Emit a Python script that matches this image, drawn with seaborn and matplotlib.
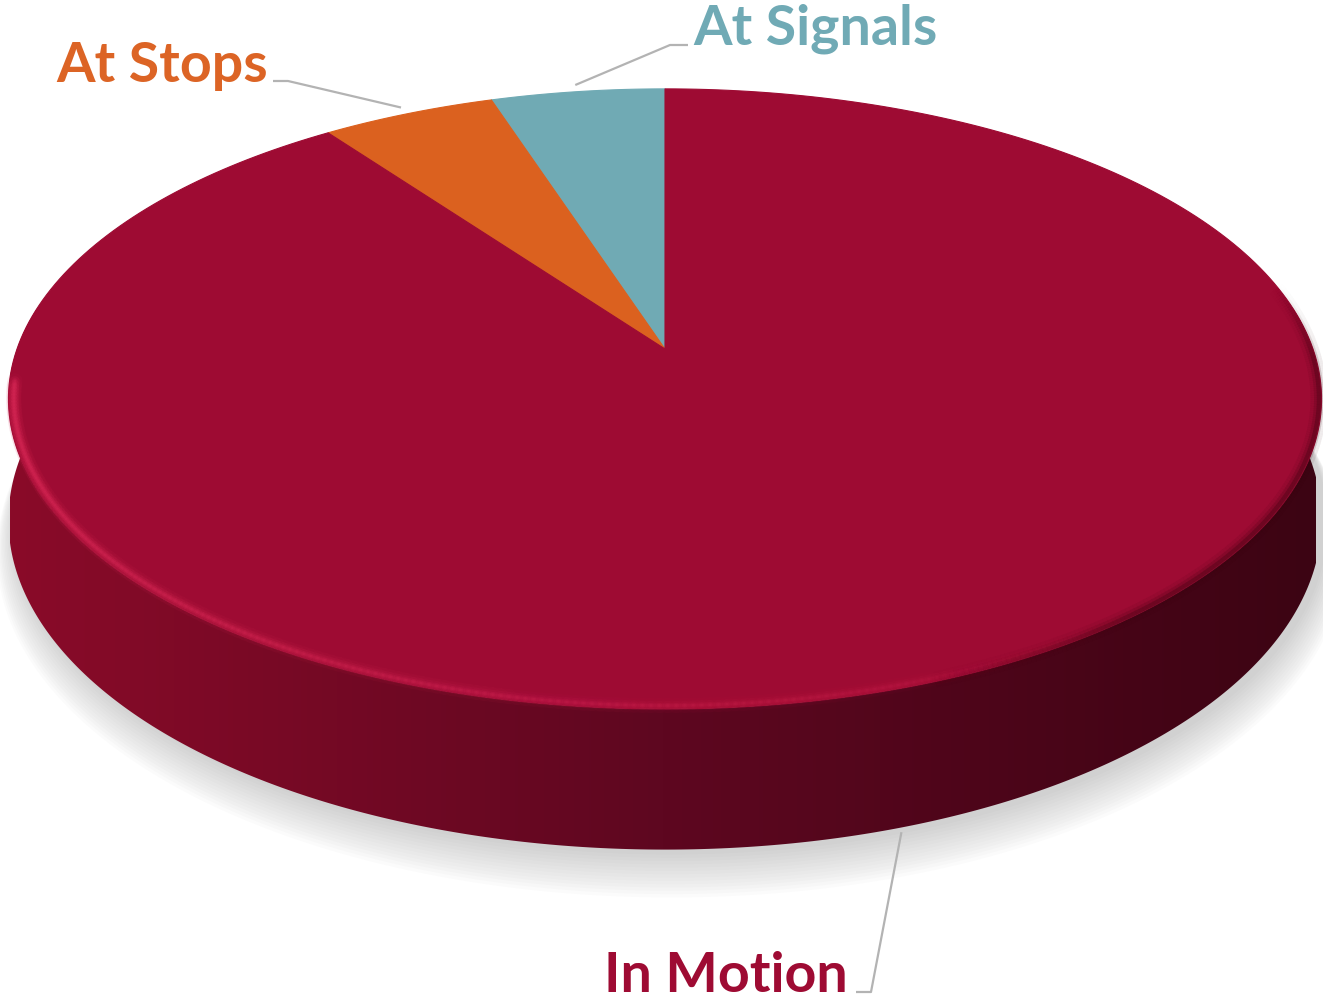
import numpy as np
import matplotlib
matplotlib.use("Agg")
import matplotlib.pyplot as plt
from matplotlib.collections import LineCollection
from matplotlib.colors import to_rgb
from matplotlib.patches import Polygon
import seaborn as sns

# Share of bus time by state (percent)
categories = ["At Signals", "At Stops", "In Motion"]
shares = [5, 5, 90]
slice_colors = ["#70aab4", "#db611f", "#9e0b33"]
label_colors = ["#70aab5", "#dc6425", "#9e0b33"]

sns.set_theme(style="white")
plt.rcParams["font.family"] = ["Lato", "DejaVu Sans"]

# Perspective disc geometry (pixel units)
CX, CY = 665.0, 350.0
A, B, K = 648.0, 302.0, 0.161
DEPTH = 118.0


def project(theta, r=1.0, drop=0.0):
    u = r * np.cos(theta)
    v = r * np.sin(theta)
    w = 1.0 + K * v
    return CX + A * u / w, CY - B * v / w + drop / w


fig = plt.figure(figsize=(13.23, 10.04), dpi=100)
ax = fig.add_axes([0, 0, 1, 1])
ax.set_xlim(0, 1323)
ax.set_ylim(1004, 0)
ax.axis("off")

# soft drop shadow under the disc
t = np.linspace(0, 2 * np.pi, 400)
for i in range(14):
    sx, sy = project(t, r=1.0 + 0.002 * i, drop=DEPTH + 4 + 2.0 * i)
    ax.fill(sx + 6, sy, color="#9a9a9a", alpha=0.035, lw=0, zorder=1)

# side wall: one outline filled with a left-to-right shading
ts = np.radians(np.linspace(172, 368, 400))
tx, ty = project(ts)
bx, by = project(ts, drop=DEPTH)
wall = Polygon(np.column_stack([np.r_[tx, bx[::-1]], np.r_[ty, by[::-1]]]),
               closed=True, fc="none", ec="none", transform=ax.transData)
ax.add_patch(wall)
stops_x = np.array([0.0, 0.5, 1.0])
stops_c = np.array([to_rgb(c) for c in ("#8a0b29", "#5e0720", "#3c0413")])
gx = np.linspace(0, 1, 600)
grad = np.stack([np.interp(gx, stops_x, stops_c[:, k]) for k in range(3)], axis=-1)
img = ax.imshow(grad[None, :, :], extent=(10, 1316, 960, 300), aspect="auto",
                interpolation="bilinear", zorder=2)
img.set_clip_path(wall)

# top face slices, counter-clockwise from 12 o'clock
fracs = np.array(shares, dtype=float) / np.sum(shares)
bounds = np.pi / 2 + 2 * np.pi * np.concatenate([[0], np.cumsum(fracs)])
mids = []
for i, (cat, col) in enumerate(zip(categories, slice_colors)):
    th = np.linspace(bounds[i], bounds[i + 1], 300)
    px, py = project(th)
    ax.fill(np.r_[CX, px, CX], np.r_[CY, py, CY], color=col, lw=0.8, ec=col, zorder=3)
    mids.append((bounds[i] + bounds[i + 1]) / 2)

# bevel: light rim on the front-left, dark rim on the right
hl = np.radians(np.linspace(186, 312, 200))
for width, alpha in [(11, 0.06), (7, 0.12), (4, 0.2), (2, 0.25)]:
    hx, hy = project(hl, r=0.992)
    segs = [[(hx[j], hy[j]), (hx[j + 1], hy[j + 1])] for j in range(len(hl) - 1)]
    fade = np.clip(1 - (hl[:-1] - hl[0]) / (hl[-1] - hl[0]), 0, 1) ** 0.7
    rgba = [(0.85, 0.16, 0.34, alpha * fv) for fv in fade]
    ax.add_collection(LineCollection(segs, colors=rgba, linewidths=width, zorder=4, capstyle="round"))

dk = np.radians(np.linspace(290, 372, 200))
for width, alpha in [(12, 0.08), (7, 0.16), (3, 0.3)]:
    dx, dy = project(dk, r=0.996)
    segs = [[(dx[j], dy[j]), (dx[j + 1], dy[j + 1])] for j in range(len(dk) - 1)]
    ramp = np.clip((dk[:-1] - dk[0]) / 0.35, 0, 1) * np.clip((dk[-1] - dk[:-1]) / 0.25, 0, 1)
    rgba = [(0.22, 0.01, 0.06, alpha * rv) for rv in ramp]
    ax.add_collection(LineCollection(segs, colors=rgba, linewidths=width, zorder=4))

# labels with leader lines
leader = "#b3b3b3"
label_layout = {
    "At Signals": dict(anchor=project(mids[0], r=1.03), elbow=(670, 46), end=(688, 46),
                       text=(693, 45), ha="left"),
    "At Stops": dict(anchor=project(mids[1], r=1.03), elbow=(288, 82), end=(273, 82),
                     text=(268, 82), ha="right"),
    "In Motion": dict(anchor=project(mids[2], r=1.0, drop=DEPTH + 4), elbow=(871, 993),
                      end=(856, 993), text=(848, 992), ha="right"),
}
for cat, col in zip(categories, label_colors):
    L = label_layout[cat]
    ax.plot([L["anchor"][0], L["elbow"][0], L["end"][0]],
            [L["anchor"][1], L["elbow"][1], L["end"][1]],
            color=leader, lw=1.6, zorder=5, solid_capstyle="butt")
    ax.text(L["text"][0], L["text"][1], cat, color=col, fontsize=40, fontweight="bold",
            ha=L["ha"], va="baseline", zorder=6)

fig.savefig("out.png", dpi=100)
